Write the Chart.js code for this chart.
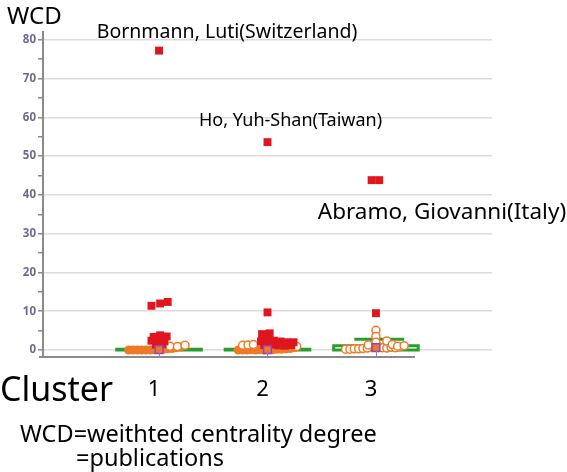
<!DOCTYPE html>
<html>
<head>
<meta charset="utf-8">
<script src="https://cdn.jsdelivr.net/npm/chart.js@4/dist/chart.umd.min.js"></script>
<style>
  html, body { margin: 0; padding: 0; background: #fff; }
  #wrap { position: relative; width: 567px; height: 472px; }
</style>
</head>
<body>
<div id="wrap"><canvas id="wcdChart" width="567" height="472"></canvas></div>
<script>
// ---------- data ----------
const clusters = ["1", "2", "3"];
const clusterPos = [1, 2, 3];
const yTicks = [0, 5, 10, 15, 20, 25, 30, 35, 40, 45, 50, 55, 60, 65, 70, 75, 80];

// highlighted authors (red squares)
const redX = [1.00, 0.93, 1.01, 1.08, 0.95, 1.01, 1.07, 0.93, 0.99, 1.05, 1.03, 0.97,
              2.00, 2.00, 1.95, 2.02, 1.94, 2.00, 2.06, 2.12, 2.18, 2.24, 1.97, 2.04, 2.10, 2.16, 2.22,
              2.96, 3.03, 3.00];
const redY = [77.2, 11.4, 12.0, 12.4, 3.4, 3.8, 3.5, 2.4, 2.6, 2.2, 1.5, 1.4,
              53.6, 9.7, 4.1, 4.3, 2.2, 2.4, 2.4, 2.2, 2.0, 2.0, 1.3, 1.4, 1.2, 1.1, 1.3,
              43.8, 43.8, 9.5];

// other authors, filled orange circles
const orangeX = [0.72, 0.76, 0.80, 0.84, 0.88, 0.92, 0.96, 1.00, 1.04, 1.08, 1.12, 1.16, 1.20,
                 1.73, 1.77, 1.81, 1.85, 1.89, 1.93, 1.97, 2.01, 2.05, 2.09, 2.13, 2.17, 2.21, 2.25];
const orangeY = [0, 0, 0, 0, 0, 0, 0.1, 0.1, 0.2, 0.3, 0.4, 0.6, 0.8,
                 0, 0, 0, 0.1, 0, 0.1, 0, 0.1, 0.1, 0.2, 0.2, 0.3, 0.4, 0.6];

// other authors, open circles
const openX = [1.10, 1.17, 1.24,
               1.77, 1.82, 1.87, 2.27,
               2.72, 2.76, 2.80, 2.84, 2.88, 2.92, 3.06, 3.10, 3.14, 3.18, 3.22,
               3.00, 3.00, 2.93, 3.00, 3.10, 3.15, 3.20, 3.26];
const openY = [1.0, 0.9, 1.2,
               1.2, 1.3, 1.4, 0.9,
               0.2, 0.2, 0.3, 0.3, 0.4, 0.5, 0.6, 0.5, 0.7, 0.6, 0.9,
               5.1, 3.5, 1.3, 2.0, 2.3, 1.4, 1.0, 1.1];

// box plot per cluster
const medians = [0.1, 0.1, 0.6];
const boxLow = [0, 0, 0];
const boxHigh = [0.2, 0.2, 1.1];
const capHigh = [null, null, 2.8];

// name labels: [author, x, y]
const notes = [
  ["Bornmann, Luti(Switzerland)", 1.00, 77.2],
  ["Ho, Yuh-Shan(Taiwan)", 2.00, 53.6],
  ["Abramo, Giovanni(Italy)", 3.00, 43.8]
];

const FONT = "'Noto Sans', 'Open Sans', sans-serif";
const toXY = (xs, ys) => xs.map((x, i) => ({ x: x, y: ys[i] }));

// ---------- drawing helpers ----------
const boxPlugin = {
  id: "boxes",
  beforeDatasetsDraw(chart) {
    const { ctx, scales: { x, y } } = chart;
    ctx.save();
    ctx.strokeStyle = "#2a9d2f";
    ctx.lineWidth = 3;
    clusterPos.forEach((c, i) => {
      const l = x.getPixelForValue(c - 0.39), r = x.getPixelForValue(c + 0.39);
      const top = y.getPixelForValue(boxHigh[i]), bot = y.getPixelForValue(boxLow[i]);
      ctx.strokeRect(l, top, r - l, bot - top);
      if (capHigh[i] !== null) {
        const cy = y.getPixelForValue(capHigh[i]);
        ctx.beginPath();
        ctx.moveTo(x.getPixelForValue(c - 0.2), cy);
        ctx.lineTo(x.getPixelForValue(c + 0.26), cy);
        ctx.stroke();
      }
    });
    ctx.restore();
  },
  afterDraw(chart) {
    const { ctx, chartArea, scales: { x, y } } = chart;
    ctx.save();
    // bottom axis
    ctx.strokeStyle = "#8a8a8a";
    ctx.lineWidth = 2;
    ctx.beginPath();
    ctx.moveTo(chartArea.left - 4, chartArea.bottom);
    ctx.lineTo(x.getPixelForValue(3.36), chartArea.bottom);
    ctx.stroke();
    ctx.lineWidth = 1;
    clusterPos.forEach(c => {
      const px = Math.round(x.getPixelForValue(c)) + 0.5;
      ctx.beginPath();
      ctx.moveTo(px, y.getPixelForValue(0));
      ctx.lineTo(px, chartArea.bottom);
      ctx.stroke();
    });

    ctx.fillStyle = "#000";
    ctx.textBaseline = "middle";
    // author names
    ctx.textAlign = "center";
    ctx.font = "19.5px " + FONT;
    ctx.fillText(notes[0][0], x.getPixelForValue(notes[0][1]) + 68, y.getPixelForValue(notes[0][2]) - 18);
    ctx.font = "18px " + FONT;
    ctx.fillText(notes[1][0], x.getPixelForValue(notes[1][1]) + 23, y.getPixelForValue(notes[1][2]) - 21);
    ctx.font = "22.5px " + FONT;
    ctx.fillText(notes[2][0], x.getPixelForValue(notes[2][1]) + 66, y.getPixelForValue(notes[2][2]) + 32);

    // axis titles
    ctx.textAlign = "left";
    ctx.font = "24px " + FONT;
    ctx.fillText("WCD", 7, 17);
    ctx.font = "34px " + FONT;
    ctx.fillText("Cluster", 0, 391);
    ctx.textAlign = "center";
    ctx.font = "22px " + FONT;
    clusters.forEach((lab, i) => ctx.fillText(lab, x.getPixelForValue(clusterPos[i]) - 5, 390));

    // footnote
    ctx.textAlign = "left";
    ctx.font = "23.5px " + FONT;
    ctx.fillText("WCD=weithted centrality degree", 20, 435);
    ctx.fillText("=publications", 76, 459);
    ctx.restore();
  }
};

new Chart(document.getElementById("wcdChart"), {
  type: "scatter",
  data: {
    datasets: [
      {
        label: "median",
        data: toXY(clusterPos, medians),
        pointStyle: "rect",
        pointRadius: 5.5,
        backgroundColor: "#ef7a25",
        borderColor: "#9b3fb5",
        borderWidth: 1.5,
        order: 0
      },
      {
        label: "top",
        data: toXY(redX, redY),
        pointStyle: "rect",
        pointRadius: 5.6,
        backgroundColor: "#e0161f",
        borderWidth: 0,
        order: 1
      },
      {
        label: "open",
        data: toXY(openX, openY),
        pointStyle: "circle",
        pointRadius: 4,
        backgroundColor: "#ffffff",
        borderColor: "#ef7a25",
        borderWidth: 1.5,
        order: 2
      },
      {
        label: "filled",
        data: toXY(orangeX, orangeY),
        pointStyle: "circle",
        pointRadius: 4.5,
        backgroundColor: "#ef7a25",
        borderColor: "#ef7a25",
        borderWidth: 0,
        order: 3
      }
    ]
  },
  options: {
    responsive: false,
    animation: false,
    devicePixelRatio: 1,
    layout: { padding: { left: 0, right: 75, top: 32, bottom: 115 } },
    plugins: {
      legend: { display: false },
      tooltip: { enabled: false }
    },
    scales: {
      x: {
        type: "linear",
        display: false,
        min: -0.07,
        max: 4.07
      },
      y: {
        min: -1.8,
        max: 82,
        afterFit: scale => { scale.width = 43; },
        afterBuildTicks: scale => { scale.ticks = yTicks.map(v => ({ value: v })); },
        border: { color: "#8a8a8a", width: 2 },
        grid: {
          color: c => (c.tick && c.tick.value % 10 === 0 ? "#dcdcdc" : "rgba(0,0,0,0)"),
          tickColor: "#8a8a8a",
          tickLength: 5,
          lineWidth: 1.5
        },
        ticks: {
          padding: 2,
          color: "#6b6b8c",
          font: { family: FONT, size: 11.5, weight: "bold" },
          callback: v => (v % 10 === 0 ? v : "")
        }
      }
    }
  },
  plugins: [boxPlugin]
});
</script>
</body>
</html>
